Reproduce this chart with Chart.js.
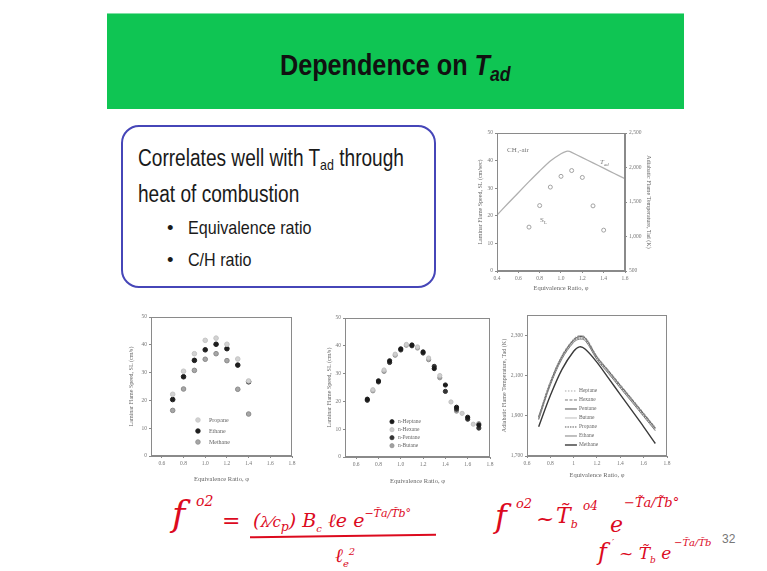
<!DOCTYPE html>
<html><head><meta charset="utf-8">
<script src="https://cdn.jsdelivr.net/npm/chart.js@4.4.1/dist/chart.umd.min.js"></script>
<style>
html,body{margin:0;padding:0;background:#fff;width:767px;height:571px;overflow:hidden;position:relative;font-family:"Liberation Sans",Arial,sans-serif;}
.abs{position:absolute;white-space:nowrap;}
#banner{position:absolute;left:107px;top:13px;width:577px;height:95px;background:#0fc553;border-top:1px solid #7fe0a5;}
#title{position:absolute;left:107px;width:577px;top:50px;text-align:center;font-size:30px;line-height:30px;font-weight:bold;color:#111;}
#title span.in{display:inline-block;transform:scaleX(0.84);transform-origin:center;}
#box{position:absolute;left:121px;top:125px;width:311px;height:159px;border:2px solid #4646b8;border-radius:18px;}
.bx{position:absolute;white-space:nowrap;color:#1a1a1a;transform-origin:left center;}
.cv{position:absolute;}
.hw{position:absolute;white-space:nowrap;color:#dc0a1e;font-family:"DejaVu Serif",serif;font-style:italic;}
.ann{position:absolute;white-space:nowrap;font-family:"Liberation Serif",serif;color:#777;font-size:7px;}
</style></head>
<body>
<div id="banner"></div>
<div id="title"><span class="in">Dependence on <i>T<sub style="font-size:0.7em;vertical-align:-0.3em;">ad</sub></i></span></div>

<div id="box"></div>
<div class="bx" style="left:138px;top:147px;font-size:23px;line-height:23px;transform:scaleX(0.83);">Correlates well with T<sub style="font-size:0.65em;vertical-align:-0.3em;">ad</sub> through</div>
<div class="bx" style="left:138px;top:183px;font-size:23px;line-height:23px;transform:scaleX(0.83);">heat of combustion</div>
<div class="bx" style="left:167px;top:219px;font-size:18.5px;line-height:18.5px;">•</div>
<div class="bx" style="left:188px;top:219px;font-size:18.5px;line-height:18.5px;transform:scaleX(0.87);">Equivalence ratio</div>
<div class="bx" style="left:167px;top:251px;font-size:18.5px;line-height:18.5px;">•</div>
<div class="bx" style="left:188px;top:251px;font-size:18.5px;line-height:18.5px;transform:scaleX(0.87);">C/H ratio</div>

<div class="cv" style="left:477px;top:125px;"><canvas id="c1" width="175" height="167"></canvas></div>
<div class="cv" style="left:128px;top:308px;"><canvas id="c2" width="172" height="175"></canvas></div>
<div class="cv" style="left:326px;top:310px;"><canvas id="c3" width="172" height="175"></canvas></div>
<div class="cv" style="left:501px;top:307px;"><canvas id="c4" width="174" height="172"></canvas></div>

<div class="ann" style="left:507px;top:146px;">CH₄-air</div>
<div class="ann" style="left:600px;top:158px;font-style:italic;">T<sub style="font-size:0.7em">ad</sub></div>
<div class="ann" style="left:540px;top:216px;">S<sub style="font-size:0.7em">L</sub></div>

<!-- handwritten notes -->
<div class="hw" style="left:172px;top:496px;font-size:36px;line-height:36px;">f</div>
<div class="hw" style="left:196px;top:494px;font-size:14px;line-height:14px;">o2</div>
<div class="hw" style="left:222px;top:510px;font-size:22px;line-height:22px;">=</div>
<div class="hw" style="left:253px;top:503px;font-size:19px;line-height:22px;">(<span style="font-size:15px">λ⁄c<sub>p</sub></span>) B<sub style="font-size:10px">c</sub> ℓe e<sup style="font-size:11px;vertical-align:0.9em">−T̃a/T̃b°</sup></div>
<div style="position:absolute;left:250px;top:535px;width:186px;height:2px;background:#dc0a1e;transform:rotate(-0.8deg);"></div>
<div class="hw" style="left:335px;top:541px;font-size:19px;line-height:22px;">ℓ<sub style="font-size:10px">e</sub><sup style="font-size:10px">2</sup></div>

<div class="hw" style="left:495px;top:500px;font-size:32px;line-height:32px;">f</div>
<div class="hw" style="left:516px;top:497px;font-size:13px;line-height:13px;">o2</div>
<div class="hw" style="left:536px;top:508px;font-size:22px;line-height:22px;">~</div>
<div class="hw" style="left:556px;top:505px;font-size:22px;line-height:22px;">T̃<sub style="font-size:11px">b</sub></div>
<div class="hw" style="left:583px;top:500px;font-size:12px;line-height:12px;">o4</div>
<div class="hw" style="left:610px;top:514px;font-size:22px;line-height:22px;">e</div>
<div class="hw" style="left:624px;top:496px;font-size:13px;line-height:13px;">−T̃a/T̃b°</div>
<div class="hw" style="left:598px;top:540px;font-size:24px;line-height:24px;">f</div>
<div class="hw" style="left:612px;top:538px;font-size:10px;line-height:10px;">′</div>
<div class="hw" style="left:619px;top:545px;font-size:17px;line-height:17px;">~ T̃<sub style="font-size:9px">b</sub> e</div>
<div class="hw" style="left:674px;top:538px;font-size:10px;line-height:10px;">−T̃a/T̃b</div>
<div class="abs" style="left:722px;top:533px;font-size:12px;line-height:12px;color:#777;">32</div>

<script>
// ---------- data ----------
// Chart 1: CH4-air
const phiCH4 = [0.7, 0.8, 0.9, 1.0, 1.1, 1.2, 1.3, 1.4];
const slCH4 = [15.9, 23.7, 30.4, 34.3, 36.4, 33.9, 23.6, 14.8];
const phiTad = [0.4, 0.5, 0.6, 0.7, 0.8, 0.9, 1.0, 1.05, 1.08, 1.1, 1.2, 1.3, 1.4, 1.5, 1.6];
const tadCH4 = [1310, 1475, 1635, 1795, 1950, 2095, 2200, 2235, 2235, 2220, 2143, 2067, 1990, 1913, 1837];
const ticksX1 = [0.4, 0.6, 0.8, 1.0, 1.2, 1.4, 1.6];
const ticksY1 = [0, 10, 20, 30, 40, 50];
const ticksY1R = [500, 1000, 1500, 2000, 2500];

// Chart 2: propane / ethane / methane
const phi2 = [0.7, 0.8, 0.9, 1.0, 1.1, 1.2, 1.3, 1.4];
const slPropane = [22.2, 30.5, 36.8, 41.6, 42.4, 40.2, 34.9, 27.0];
const slEthane = [20.3, 28.5, 34.4, 38.2, 40.2, 38.6, 32.7, 26.7];
const slMethane = [16.4, 24.1, 30.8, 34.8, 36.8, 34.3, 24.0, 15.1];
const ticksX2 = [0.6, 0.8, 1.0, 1.2, 1.4, 1.6, 1.8];
const ticksY2 = [0, 10, 20, 30, 40, 50];

// Chart 3: n-alkanes
const phiHeptane = [0.7, 0.8, 0.9, 1.0, 1.1, 1.2, 1.3, 1.4, 1.5, 1.6, 1.7];
const slHeptane = [20.8, 27.4, 34.6, 38.9, 40.3, 37.8, 31.8, 25.9, 17.9, 14.3, 11.5];
const phiHexane = [0.75, 0.85, 0.95, 1.05, 1.15, 1.25, 1.35, 1.45, 1.55, 1.65];
const slHexane = [24.2, 31.3, 37.0, 40.5, 39.6, 35.6, 29.3, 19.8, 15.7, 11.8];
const phiPentane = [0.7, 0.8, 0.9, 1.0, 1.1, 1.2, 1.3, 1.4, 1.5, 1.6, 1.7];
const slPentane = [20.4, 27.0, 34.0, 38.5, 40.0, 37.4, 32.6, 23.6, 17.2, 13.6, 10.4];
const phiButane = [0.75, 0.85, 0.95, 1.05, 1.15, 1.25, 1.35, 1.5, 1.7];
const slButane = [23.8, 30.8, 36.6, 40.2, 39.2, 35.0, 28.5, 16.5, 12.0];

// Chart 4: adiabatic flame temperature
const phi4 = [0.7, 0.8, 0.9, 1.0, 1.05, 1.1, 1.2, 1.3, 1.4, 1.5, 1.6, 1.7];
const tadHeptane = [1898, 2070, 2200, 2282, 2298, 2290, 2196, 2126, 2055, 1985, 1914, 1843];
const tadHexane  = [1896, 2068, 2198, 2280, 2296, 2288, 2194, 2124, 2053, 1983, 1912, 1841];
const tadPentane = [1893, 2065, 2195, 2277, 2293, 2285, 2191, 2121, 2050, 1980, 1909, 1838];
const tadButane  = [1890, 2062, 2192, 2274, 2290, 2282, 2188, 2118, 2047, 1977, 1906, 1835];
const tadPropane = [1886, 2058, 2188, 2270, 2286, 2278, 2184, 2114, 2043, 1973, 1902, 1831];
const tadEthane  = [1880, 2052, 2182, 2264, 2280, 2272, 2178, 2108, 2037, 1967, 1896, 1825];
const tadMethane = [1845, 2000, 2130, 2220, 2242, 2230, 2165, 2085, 2005, 1925, 1845, 1762];
const ticksX4 = [0.6, 0.8, 1.0, 1.2, 1.4, 1.6, 1.8];
const ticksY4 = [1700, 1900, 2100, 2300];

// ---------- helpers ----------
const SERIF = '"Liberation Serif", "Times New Roman", serif';
const AX = '#8a8a8a';
const pts = (xs, ys) => xs.map((x, i) => ({x: x, y: ys[i]}));
const f1 = v => Number(v).toFixed(1);
const fTrim = v => String(Number(v));
const fComma = v => Number(v).toLocaleString('en-US');

function xAxis(min, max, ticks, fmt, h) {
  return {
    type: 'linear', position: 'bottom', min: min, max: max,
    afterBuildTicks: s => { s.ticks = ticks.map(v => ({value: v})); },
    afterFit: s => { s.height = h; },
    ticks: {font: {family: SERIF, size: 5.5}, color: '#777', padding: 2, maxRotation: 0, autoSkip: false, callback: v => fmt(v)},
    grid: {drawOnChartArea: false, tickLength: 2, color: AX},
    border: {color: AX},
    title: {display: true, text: 'Equivalence Ratio, φ', font: {family: SERIF, size: 6.5}, color: '#666', padding: {top: 3, bottom: 0}}
  };
}
function yAxis(min, max, ticks, fmt, w, title, pos) {
  return {
    type: 'linear', position: pos || 'left', min: min, max: max,
    afterBuildTicks: s => { s.ticks = ticks.map(v => ({value: v})); },
    afterFit: s => { s.width = w; },
    ticks: {font: {family: SERIF, size: 5.5}, color: '#777', padding: 2, autoSkip: false, callback: v => fmt(v)},
    grid: {drawOnChartArea: false, tickLength: 2, color: AX},
    border: {color: AX},
    title: {display: true, text: title, font: {family: SERIF, size: 6}, color: '#666', padding: {top: 0, bottom: 1}}
  };
}
const framePlugin = {
  id: 'frame',
  afterDraw(chart) {
    const {ctx, chartArea: a} = chart;
    ctx.save(); ctx.strokeStyle = AX; ctx.lineWidth = 1;
    ctx.strokeRect(Math.round(a.left) + 0.5, Math.round(a.top) + 0.5, Math.round(a.width) - 1, Math.round(a.height) - 1);
    ctx.restore();
  }
};
const insideLegend = {
  id: 'insideLegend',
  afterDraw(chart, args, o) {
    if (!o || !o.display) return;
    const {ctx, chartArea: a} = chart;
    const x0 = a.left + o.x * a.width, y0 = a.top + o.y * a.height;
    ctx.save();
    ctx.font = o.size + 'px ' + SERIF;
    ctx.textBaseline = 'middle';
    chart.data.datasets.forEach((ds, i) => {
      const y = y0 + i * o.rowH;
      if (o.kind === 'line') {
        ctx.beginPath();
        ctx.setLineDash(ds.borderDash || []);
        ctx.strokeStyle = ds.borderColor; ctx.lineWidth = ds.borderWidth;
        ctx.moveTo(x0, y); ctx.lineTo(x0 + o.lineLen, y); ctx.stroke();
        ctx.setLineDash([]);
      } else {
        ctx.beginPath();
        ctx.fillStyle = ds.backgroundColor; ctx.strokeStyle = ds.borderColor; ctx.lineWidth = 0.8;
        ctx.arc(x0, y, ds.pointRadius, 0, Math.PI * 2); ctx.fill(); ctx.stroke();
      }
      ctx.fillStyle = '#666';
      ctx.fillText(ds.label, x0 + o.textOff, y);
    });
    ctx.restore();
  }
};
const baseOpts = (pad) => ({
  responsive: false, animation: false, devicePixelRatio: 1,
  layout: {padding: pad},
  plugins: {legend: {display: false}, tooltip: {enabled: false}}
});

// ---------- chart 1 ----------
{
  const o = baseOpts({top: 8, right: 0, left: 0, bottom: 0});
  o.scales = {
    x: xAxis(0.4, 1.6, ticksX1, f1, 21),
    y: yAxis(0, 50, ticksY1, fTrim, 20, 'Laminar Flame Speed, SL (cm/sec)', 'left'),
    y2: yAxis(500, 2500, ticksY1R, fComma, 27, 'Adiabatic Flame Temperature, Tad (K)', 'right')
  };
  new Chart(document.getElementById('c1'), {
    type: 'scatter',
    data: {datasets: [
      {label: 'SL', data: pts(phiCH4, slCH4), yAxisID: 'y', pointRadius: 2, backgroundColor: '#fff', borderColor: '#999', borderWidth: 0.9},
      {label: 'Tad', data: pts(phiTad, tadCH4), yAxisID: 'y2', showLine: true, pointRadius: 0, borderColor: '#b0b0b0', borderWidth: 1.3, tension: 0.2}
    ]},
    options: o,
    plugins: [framePlugin]
  });
}
// ---------- chart 2 ----------
{
  const o = baseOpts({top: 9, right: 8, left: 0, bottom: 0});
  o.scales = {
    x: xAxis(0.5, 1.8, ticksX2, f1, 27),
    y: yAxis(0, 50, ticksY2, fTrim, 23, 'Laminar Flame Speed, SL (cm/s)', 'left')
  };
  o.plugins.insideLegend = {display: true, x: 0.333, y: 0.741, rowH: 11, size: 6, textOff: 11};
  new Chart(document.getElementById('c2'), {
    type: 'scatter',
    data: {datasets: [
      {label: 'Propane', data: pts(phi2, slPropane), pointRadius: 2.3, backgroundColor: '#d2d2d2', borderColor: '#c4c4c4'},
      {label: 'Ethane', data: pts(phi2, slEthane), pointRadius: 2.3, backgroundColor: '#1e1e1e', borderColor: '#1e1e1e'},
      {label: 'Methane', data: pts(phi2, slMethane), pointRadius: 2.3, backgroundColor: '#a6a6a6', borderColor: '#8a8a8a'}
    ]},
    options: o,
    plugins: [framePlugin, insideLegend]
  });
}
// ---------- chart 3 ----------
{
  const o = baseOpts({top: 8, right: 8, left: 0, bottom: 0});
  o.scales = {
    x: xAxis(0.5, 1.8, ticksX2, f1, 28),
    y: yAxis(0, 50, ticksY2, fTrim, 19, 'Laminar Flame Speed, SL (cm/s)', 'left')
  };
  o.plugins.insideLegend = {display: true, x: 0.324, y: 0.746, rowH: 8, size: 5.5, textOff: 6};
  new Chart(document.getElementById('c3'), {
    type: 'scatter',
    data: {datasets: [
      {label: 'n-Heptane', data: pts(phiHeptane, slHeptane), pointRadius: 2.1, backgroundColor: '#1a1a1a', borderColor: '#1a1a1a'},
      {label: 'n-Hexane', data: pts(phiHexane, slHexane), pointRadius: 2.1, backgroundColor: '#cfcfcf', borderColor: '#c0c0c0'},
      {label: 'n-Pentane', data: pts(phiPentane, slPentane), pointRadius: 2.1, backgroundColor: '#333', borderColor: '#333'},
      {label: 'n-Butane', data: pts(phiButane, slButane), pointRadius: 2.1, backgroundColor: '#a0a0a0', borderColor: '#909090'}
    ]},
    options: o,
    plugins: [framePlugin, insideLegend]
  });
}
// ---------- chart 4 ----------
{
  const o = baseOpts({top: 8, right: 8, left: 0, bottom: 0});
  o.scales = {
    x: xAxis(0.6, 1.8, ticksX4, fTrim, 23),
    y: yAxis(1700, 2400, ticksY4, fComma, 26, 'Adiabatic Flame Temperature, Tad (K)', 'left')
  };
  o.plugins.insideLegend = {display: true, kind: 'line', x: 0.271, y: 0.539, rowH: 9, size: 5.5, textOff: 14, lineLen: 12};
  const L = (label, ys, color, w, dash) => ({label: label, data: pts(phi4, ys), showLine: true, pointRadius: 0, borderColor: color, borderWidth: w, borderDash: dash, tension: 0.35});
  new Chart(document.getElementById('c4'), {
    type: 'scatter',
    data: {datasets: [
      L('Heptane', tadHeptane, '#a8a8a8', 1, [1.5, 1.5]),
      L('Hexane', tadHexane, '#7a7a7a', 1, [3, 1.5]),
      L('Pentane', tadPentane, '#555', 1, []),
      L('Butane', tadButane, '#bbbbbb', 1, []),
      L('Propane', tadPropane, '#5a5a5a', 1, [1.5, 1]),
      L('Ethane', tadEthane, '#808080', 1, []),
      L('Methane', tadMethane, '#3a3a3a', 1.4, [])
    ]},
    options: o,
    plugins: [framePlugin, insideLegend]
  });
}
</script>
</body></html>
